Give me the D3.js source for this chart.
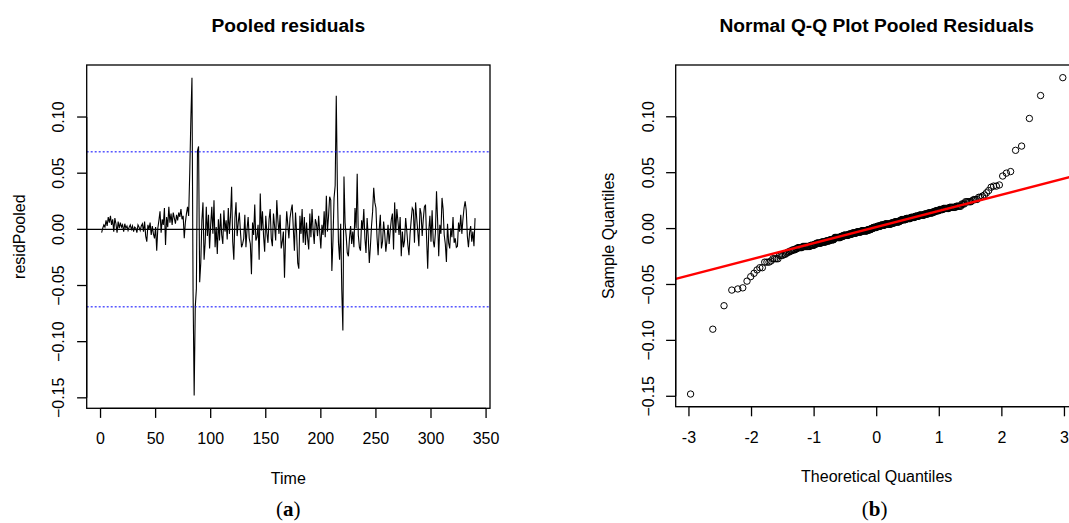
<!DOCTYPE html>
<html>
<head>
<meta charset="utf-8">
<script src="https://cdn.jsdelivr.net/npm/d3@7"></script>
<style>
  body { margin: 0; background: #fff; }
  text { font-family: "Liberation Sans", Arial, sans-serif; fill: #000; }
</style>
</head>
<body>
<svg id="chart"></svg>
<script>
// pooled residuals, one value per time step
let resid1 = [-0.003, 0.001, 0.004, 0.002, 0.008, 0.003, 0.011, 0.006, 0.012, 0.004,
              0.009, -0.002, 0.010, 0.005, -0.003, 0.007, 0.001, 0.006, 0.002, 0.004,
              -0.002, 0.005, 0.001, 0.003, -0.001, 0.002, 0.004, 0.000, 0.003, -0.002,
              0.002, 0.001, -0.003, 0.004, 0.002, -0.001, 0.003, 0.005, -0.002, 0.007,
              -0.006, -0.011, 0.004, 0.000, 0.006, -0.005, 0.003, -0.004, -0.008, 0.002,
              -0.019, 0.001, 0.008, 0.016, -0.003, 0.009, 0.004, 0.019, -0.014, 0.011,
              0.002, 0.020, 0.006, 0.014, 0.004, 0.015, 0.010, 0.005, 0.013, 0.008,
              0.015, 0.011, 0.018, 0.009, 0.012, -0.008, 0.006, 0.014, 0.020, 0.012,
              0.051, 0.0985, 0.135, -0.055, -0.148, -0.069, -0.053, 0.070, 0.0738, -0.047,
              -0.030, 0.008, 0.024, -0.027, -0.012, 0.020, -0.006, 0.013, -0.017, 0.004];
let resid2 = [0.020, -0.004, 0.026, -0.016, 0.002, -0.022, 0.009, -0.010, 0.014, -0.005,
              -0.013, 0.017, -0.002, 0.008, -0.009, 0.019, -0.004, 0.012, 0.038, -0.011,
              -0.027, 0.010, 0.024, -0.006, 0.006, 0.015, -0.002, -0.016, -0.013, -0.008,
              0.013, -0.016, 0.000, 0.011, -0.008, -0.013, -0.040, 0.006, -0.005, 0.022,
              -0.010, -0.007, 0.004, -0.027, 0.032, -0.001, 0.016, -0.006, -0.020, 0.012,
              -0.003, -0.012, 0.009, 0.018, -0.008, -0.015, 0.014, 0.003, -0.010, 0.026,
              0.008, -0.004, 0.013, -0.017, -0.011, -0.002, -0.043, -0.006, 0.016, 0.004,
              -0.008, 0.010, 0.017, 0.022, 0.001, -0.019, 0.015, -0.003, -0.030, -0.035,
              0.012, -0.004, 0.018, -0.012, 0.011, -0.014, 0.006, -0.008, -0.018, 0.014,
              -0.007, 0.018, -0.001, -0.013, 0.009, 0.005, -0.006, 0.012, -0.003, -0.017,
              0.004, -0.005, 0.016, -0.007, 0.030, -0.002, 0.012, 0.029, 0.026, -0.037,
              -0.010, 0.028, 0.039, 0.119, 0.038, -0.012, -0.027, 0.005, -0.054, -0.090];
let resid3 = [0.047, 0.006, -0.006, -0.021, -0.024, -0.008, 0.003, -0.013, -0.002, -0.016,
              0.019, 0.001, 0.0496, -0.005, -0.016, -0.019, 0.008, 0.000, 0.018, -0.008,
              -0.021, 0.010, -0.006, -0.030, -0.015, 0.003, 0.016, 0.037, 0.024, 0.019,
              -0.007, -0.023, 0.000, 0.013, -0.017, -0.011, 0.007, -0.004, -0.020, -0.010,
              0.004, -0.013, -0.001, 0.009, 0.014, -0.018, 0.024, -0.003, 0.018, 0.007,
              -0.005, 0.011, -0.024, -0.002, -0.016, -0.010, 0.010, -0.001, -0.014, -0.023,
              -0.004, 0.008, 0.019, 0.017, -0.012, 0.024, 0.010, -0.002, -0.015, 0.019,
              0.014, -0.006, 0.009, 0.020, 0.022, -0.008, -0.035, -0.001, 0.012, -0.011,
              0.017, -0.010, -0.016, -0.003, 0.034, 0.008, -0.024, 0.004, -0.004, 0.028,
              0.018, -0.005, -0.013, -0.029, 0.005, -0.012, -0.017, 0.001, -0.007, 0.011,
              -0.012, -0.008, -0.016, -0.015, 0.006, -0.002, 0.013, -0.004, 0.009, 0.019,
              0.025, 0.017, -0.006, -0.016, -0.003, 0.003, -0.011, -0.002, -0.015, 0.010];
let residPooled = resid1.concat(resid2, resid3);
let bandLimit = 0.069;   // blue dotted bounds
let timeTicks = [0, 50, 100, 150, 200, 250, 300, 350];
let residTicks = [-0.15, -0.10, -0.05, 0.00, 0.05, 0.10];
let theoTicks = [-3, -2, -1, 0, 1, 2, 3];

let width = 1069;
let height = 523;
let fontSize = 16;
let tickLen = 9.6;

let svg = d3.select("#chart")
    .attr("width", width)
    .attr("height", height);

svg.append("rect").attr("width", width).attr("height", height).attr("fill", "#fff");

// inverse normal cdf (Acklam), used for the theoretical quantiles
function qnorm(p) {
    let a = [-3.969683028665376e+01, 2.209460984245205e+02, -2.759285104469687e+02, 1.383577518672690e+02, -3.066479806614716e+01, 2.506628277459239e+00];
    let b = [-5.447609879822406e+01, 1.615858368580409e+02, -1.556989798598866e+02, 6.680131188771972e+01, -1.328068155288572e+01];
    let c = [-7.784894002430293e-03, -3.223964580411365e-01, -2.400758277161838e+00, -2.549732539343734e+00, 4.374664141464968e+00, 2.938163982698783e+00];
    let d = [7.784695709041462e-03, 3.224671290700398e-01, 2.445134137142996e+00, 3.754408661907416e+00];
    let plow = 0.02425;
    let q, r;
    if (p < plow) {
        q = Math.sqrt(-2 * Math.log(p));
        return (((((c[0]*q + c[1])*q + c[2])*q + c[3])*q + c[4])*q + c[5]) / ((((d[0]*q + d[1])*q + d[2])*q + d[3])*q + 1);
    }
    if (p > 1 - plow) {
        q = Math.sqrt(-2 * Math.log(1 - p));
        return -(((((c[0]*q + c[1])*q + c[2])*q + c[3])*q + c[4])*q + c[5]) / ((((d[0]*q + d[1])*q + d[2])*q + d[3])*q + 1);
    }
    q = p - 0.5;
    r = q * q;
    return (((((a[0]*r + a[1])*r + a[2])*r + a[3])*r + a[4])*r + a[5])*q / (((((b[0]*r + b[1])*r + b[2])*r + b[3])*r + b[4])*r + 1);
}

// R style 4% padding on the data range
function padded(ext) {
    let pad = (ext[1] - ext[0]) * 0.04;
    return [ext[0] - pad, ext[1] + pad];
}

function drawAxes(g, x, y, box, xt, yt, xfmt, yfmt, labels) {
    // frame
    g.append("rect")
        .attr("x", box.left).attr("y", box.top)
        .attr("width", box.right - box.left).attr("height", box.bottom - box.top)
        .attr("fill", "none").attr("stroke", "#000").attr("stroke-width", 1.3);
    // bottom axis
    let ax = g.append("g");
    ax.append("line")
        .attr("x1", x(xt[0])).attr("x2", x(xt[xt.length - 1]))
        .attr("y1", box.bottom).attr("y2", box.bottom)
        .attr("stroke", "#000").attr("stroke-width", 1.3);
    ax.selectAll(".xt").data(xt).join("line")
        .attr("x1", d => x(d)).attr("x2", d => x(d))
        .attr("y1", box.bottom).attr("y2", box.bottom + tickLen)
        .attr("stroke", "#000").attr("stroke-width", 1.3);
    ax.selectAll(".xl").data(xt).join("text")
        .attr("x", d => x(d)).attr("y", labels.xTickY)
        .attr("text-anchor", "middle").style("font-size", fontSize + "px")
        .text(xfmt);
    // left axis
    let ay = g.append("g");
    ay.append("line")
        .attr("x1", box.left).attr("x2", box.left)
        .attr("y1", y(yt[0])).attr("y2", y(yt[yt.length - 1]))
        .attr("stroke", "#000").attr("stroke-width", 1.3);
    ay.selectAll(".yt").data(yt).join("line")
        .attr("x1", box.left - tickLen).attr("x2", box.left)
        .attr("y1", d => y(d)).attr("y2", d => y(d))
        .attr("stroke", "#000").attr("stroke-width", 1.3);
    ay.selectAll(".yl").data(yt).join("text")
        .attr("transform", d => `translate(${labels.yTickX},${y(d)}) rotate(-90)`)
        .attr("text-anchor", "middle").style("font-size", fontSize + "px")
        .text(yfmt);
    // titles
    let cx = (box.left + box.right) / 2;
    let cy = (box.top + box.bottom) / 2;
    g.append("text")
        .attr("x", cx).attr("y", 32)
        .attr("text-anchor", "middle")
        .style("font-size", "19.2px").style("font-weight", "bold")
        .text(labels.title);
    g.append("text")
        .attr("x", cx).attr("y", labels.xTitleY)
        .attr("text-anchor", "middle").style("font-size", fontSize + "px")
        .text(labels.xTitle);
    g.append("text")
        .attr("transform", `translate(${labels.yTitleX},${cy}) rotate(-90)`)
        .attr("text-anchor", "middle").style("font-size", fontSize + "px")
        .text(labels.yTitle);
    // panel letter, "(a)" / "(b)" with bold letter
    let cap = g.append("text")
        .attr("x", cx + labels.capShift).attr("y", 516)
        .attr("text-anchor", "middle")
        .style("font-family", "'Liberation Serif', 'DejaVu Serif', serif")
        .style("font-size", "21px");
    cap.append("tspan").text("(");
    cap.append("tspan").style("font-weight", "bold").text(labels.cap);
    cap.append("tspan").text(")");
}

let fmt2 = d => d3.format(".2f")(d);

// ---------- (a) time series of residuals ----------
let boxA = {left: 86.7, right: 490, top: 65, bottom: 408.3};
let xA = d3.scaleLinear()
    .domain(padded([1, residPooled.length]))
    .range([boxA.left, boxA.right]);
let yA = d3.scaleLinear()
    .domain(padded(d3.extent(residPooled)))
    .range([boxA.bottom, boxA.top]);

let gA = svg.append("g");
gA.append("defs").append("clipPath").attr("id", "clipA")
    .append("rect")
    .attr("x", boxA.left).attr("y", boxA.top)
    .attr("width", boxA.right - boxA.left).attr("height", boxA.bottom - boxA.top);

gA.append("path")
    .datum(residPooled)
    .attr("d", d3.line().x((d, i) => xA(i + 1)).y(d => yA(d)))
    .attr("fill", "none")
    .attr("stroke", "#000")
    .attr("stroke-width", 1.1);

gA.append("line")
    .attr("clip-path", "url(#clipA)")
    .attr("x1", boxA.left).attr("x2", boxA.right)
    .attr("y1", yA(0)).attr("y2", yA(0))
    .attr("stroke", "#000").attr("stroke-width", 1.3);

gA.selectAll(".band").data([bandLimit, -bandLimit]).join("line")
    .attr("x1", boxA.left).attr("x2", boxA.right)
    .attr("y1", d => yA(d)).attr("y2", d => yA(d))
    .attr("stroke", "#0000ff").attr("stroke-width", 1)
    .attr("stroke-dasharray", "2,2");

drawAxes(gA, xA, yA, boxA, timeTicks, residTicks, d => d, fmt2, {
    title: "Pooled residuals", xTitle: "Time", yTitle: "residPooled",
    xTickY: 444, yTickX: 64, xTitleY: 484, yTitleX: 25, cap: "a", capShift: 0
});

// ---------- (b) normal Q-Q plot ----------
let sorted = residPooled.slice().sort(d3.ascending);
let n = sorted.length;
let qq = sorted.map((v, i) => ({theo: qnorm((i + 1 - 0.5) / n), sample: v}));

let boxB = {left: 675.7, right: 1077.7, top: 65, bottom: 406.7};
let xB = d3.scaleLinear()
    .domain(padded(d3.extent(qq, d => d.theo)))
    .range([boxB.left, boxB.right]);
let yB = d3.scaleLinear()
    .domain(padded(d3.extent(qq, d => d.sample)))
    .range([boxB.bottom, boxB.top]);

let gB = svg.append("g");
gB.append("defs").append("clipPath").attr("id", "clipB")
    .append("rect")
    .attr("x", boxB.left).attr("y", boxB.top)
    .attr("width", boxB.right - boxB.left).attr("height", boxB.bottom - boxB.top);

gB.selectAll("circle").data(qq).join("circle")
    .attr("cx", d => xB(d.theo))
    .attr("cy", d => yB(d.sample))
    .attr("r", 3.2)
    .attr("fill", "none")
    .attr("stroke", "#000")
    .attr("stroke-width", 1);

// qqline through the quartiles
let q1 = d3.quantileSorted(sorted, 0.25);
let q3 = d3.quantileSorted(sorted, 0.75);
let slope = (q3 - q1) / (qnorm(0.75) - qnorm(0.25));
let intercept = q1 - slope * qnorm(0.25);
let xd = xB.domain();
gB.append("line")
    .attr("clip-path", "url(#clipB)")
    .attr("x1", xB(xd[0])).attr("x2", xB(xd[1]))
    .attr("y1", yB(intercept + slope * xd[0])).attr("y2", yB(intercept + slope * xd[1]))
    .attr("stroke", "#ff0000").attr("stroke-width", 2.4);

drawAxes(gB, xB, yB, boxB, theoTicks, residTicks, d => d, fmt2, {
    title: "Normal Q-Q Plot Pooled Residuals", xTitle: "Theoretical Quantiles", yTitle: "Sample Quantiles",
    xTickY: 443, yTickX: 654, xTitleY: 482, yTitleX: 614, cap: "b", capShift: -2
});
</script>
</body>
</html>
